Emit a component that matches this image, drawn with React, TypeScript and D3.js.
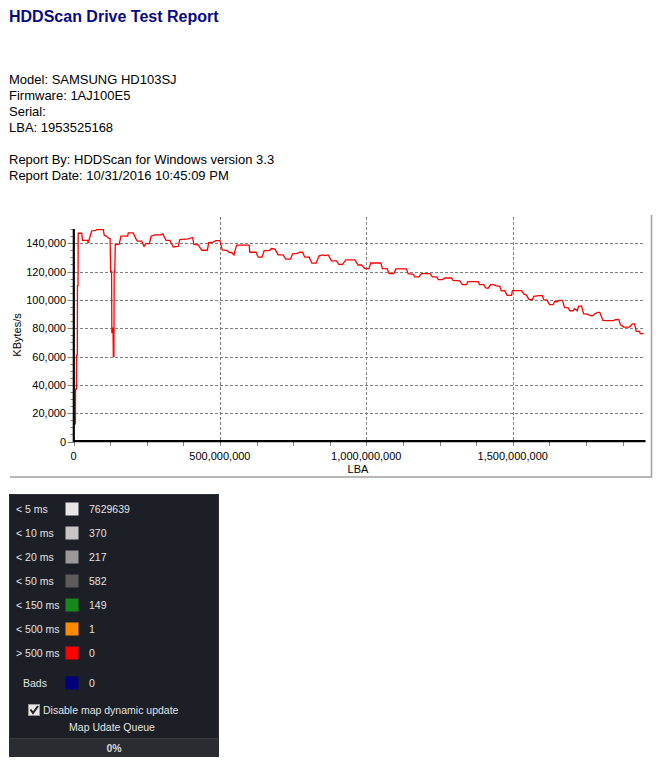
import React from "react";
import * as d3 from "d3";

// LBA position (millions of sectors) and transfer speed (thousands of KBytes/s)
const lbaM = [
  6.5, 7, 10, 10.5, 13, 13.5, 15.5, 16, 28, 31, 48, 50, 62, 75, 80, 102, 105, 112, 120, 125,
  127, 130, 131, 133, 135, 136, 138, 139, 141, 142.7, 156, 162, 185, 187, 204, 213, 218, 233, 241, 247,
  259, 265, 278, 298, 305, 316, 329, 341, 358, 363, 392, 407, 411, 426, 438, 457, 462, 477, 486, 500,
  508, 525, 532, 540, 548, 557, 600, 602, 623, 631, 644, 651, 669, 676, 688, 699, 716, 725, 741, 748,
  764, 773, 782, 790, 805, 814, 828, 839, 852, 858, 870, 881, 898, 906, 919, 930, 961, 972, 984, 995,
  1009, 1015, 1050, 1055, 1071, 1078, 1094, 1101, 1137, 1143, 1160, 1166, 1180, 1188, 1217, 1226, 1240, 1246, 1260, 1268,
  1291, 1296, 1319, 1328, 1342, 1347, 1382, 1387, 1401, 1408, 1416, 1425, 1435, 1442, 1456, 1461, 1473, 1481, 1496, 1499,
  1530, 1538, 1547, 1556, 1567, 1572, 1590, 1601, 1606, 1617, 1626, 1638, 1643, 1651, 1657, 1670, 1677, 1689, 1695, 1706,
  1712, 1720, 1725, 1735, 1742, 1757, 1765, 1774, 1780, 1791, 1797, 1803, 1808, 1825, 1844, 1851, 1862, 1868, 1879, 1899,
  1909, 1916, 1922, 1933, 1936, 1947,
];
const speedK = [
  12, 37, 37, 61, 61, 110, 110, 147, 147, 142, 142, 140, 148.6, 149.1, 149.6, 149.6, 145.6, 145, 143.5, 143.2,
  120, 120, 76.5, 80, 80, 60, 60, 120, 120, 139, 139.2, 145, 145, 147.2, 147.2, 143.2, 141.5, 141.5, 137.8, 139.7,
  139.7, 144.9, 145.8, 145.8, 146.5, 142, 142, 137.3, 137.8, 142.5, 143, 144, 139.2, 138.8, 135, 135, 140.4, 140.8, 141.8, 141.8,
  135.2, 134.8, 133.4, 133.4, 131.7, 138.6, 138.6, 133.6, 133.6, 130.1, 130.1, 134.8, 134.8, 136.2, 135.8, 131.7, 131.7, 128.7, 128.7, 132.4,
  132.8, 133.6, 133.6, 130.1, 130.1, 125.9, 125.9, 131, 131.7, 131.2, 131.7, 127.5, 127.5, 125.1, 125.1, 128.2, 128.2, 124.6, 124.6, 122,
  122, 126, 126, 122, 122, 118.5, 118.5, 121.8, 121.8, 118.5, 118, 116.2, 116.2, 118.5, 118.5, 116.2, 116.2, 114.3, 114.3, 115.4,
  115.4, 113.8, 113.4, 110.7, 110.7, 112.8, 112.8, 110.7, 110.7, 108.4, 108.2, 110.7, 110.7, 110, 109.5, 106.3, 106.5, 103.2, 103.2, 106.5,
  106.5, 104.2, 103.2, 100.1, 100.1, 102.5, 103, 103, 100.1, 99.8, 96.6, 96.6, 98.9, 98.5, 99.6, 99.6, 94.7, 94.4, 92.3, 92.3,
  93.8, 92.3, 95.4, 95.7, 90.2, 89.7, 88.8, 88.8, 90.2, 91.2, 91.2, 88.3, 85.5, 85.3, 85.3, 86, 86.2, 82.5, 80.8, 80.8,
  83, 83, 77.7, 77.7, 76.1, 76.1,
];

const LBA_MAX = 1953525168;
const SPEED_MAX = 150000;
const yTickValues = [0, 20000, 40000, 60000, 80000, 100000, 120000, 140000];
const xTickValues = [0, 500000000, 1000000000, 1500000000];

const titleText = "HDDScan Drive Test Report";
const infoLines = ["Model: SAMSUNG HD103SJ", "Firmware: 1AJ100E5", "Serial:", "LBA: 1953525168"];
const reportLines = ["Report By: HDDScan for Windows version 3.3", "Report Date: 10/31/2016 10:45:09 PM"];

const legendLabels = ["< 5 ms", "< 10 ms", "< 20 ms", "< 50 ms", "< 150 ms", "< 500 ms", "> 500 ms"];
const legendCounts = [7629639, 370, 217, 582, 149, 1, 0];
const legendColors = ["#e6e6e6", "#c6c6c6", "#9a9a9a", "#5c5c5c", "#17891a", "#ff8a00", "#ff0000"];
const badsLabel = "Bads";
const badsCount = 0;
const badsColor = "#00007c";

const FONT = "'Liberation Sans', Arial, sans-serif";
const fmt = d3.format(",");

export default function App() {
  const x = d3.scaleLinear().domain([0, LBA_MAX]).range([73.5, 645.5]);
  const y = d3.scaleLinear().domain([0, SPEED_MAX]).range([441.5, 229]);

  const points: [number, number][] = lbaM.map((l, i) => [l * 1e6, speedK[i] * 1000]);
  const line = d3
    .line<[number, number]>()
    .x((d) => x(d[0]))
    .y((d) => y(d[1]));

  const xMinor = d3.range(0, LBA_MAX, 125000000);
  const yMinor = d3.range(0, SPEED_MAX + 1, 5000);

  const rowY = (i: number) => 509 + i * 24;

  return (
    <svg
      width={662}
      height={773}
      style={{ position: "absolute", left: 0, top: 0, background: "#fff" }}
      fontFamily={FONT}
    >
      <rect x={0} y={0} width={662} height={773} fill="#fff" />
      <text x={9} y={22} fontSize={16} fontWeight="bold" fill="#0a0a80">
        {titleText}
      </text>
      {infoLines.map((t, i) => (
        <text key={t} x={9} y={83.5 + i * 16} fontSize={13} fill="#000">
          {t}
        </text>
      ))}
      {reportLines.map((t, i) => (
        <text key={t} x={9} y={164 + i * 16} fontSize={13} fill="#000">
          {t}
        </text>
      ))}

      {/* chart frame */}
      <line x1={651.5} x2={651.5} y1={215} y2={477.5} stroke="#a0a0a0" strokeWidth={1.5} />
      <line x1={10} x2={652} y1={477} y2={477} stroke="#a0a0a0" strokeWidth={1.5} />

      {/* grid */}
      {yTickValues
        .filter((v) => v > 0)
        .map((v) => (
          <line
            key={"gy" + v}
            x1={75}
            x2={643}
            y1={Math.round(y(v)) + 0.5}
            y2={Math.round(y(v)) + 0.5}
            stroke="#808080"
            strokeDasharray="3,2"
          />
        ))}
      {xTickValues
        .filter((v) => v > 0)
        .map((v) => (
          <line
            key={"gx" + v}
            x1={Math.round(x(v)) + 0.5}
            x2={Math.round(x(v)) + 0.5}
            y1={217}
            y2={440}
            stroke="#808080"
            strokeDasharray="3,2"
          />
        ))}

      {/* y ticks */}
      {yMinor.map((v) => (
        <line
          key={"ym" + v}
          x1={70.5}
          x2={73}
          y1={Math.round(y(v)) + 0.5}
          y2={Math.round(y(v)) + 0.5}
          stroke="#808080"
        />
      ))}
      {yTickValues.map((v) => (
        <g key={"yt" + v}>
          <line x1={67.5} x2={73} y1={Math.round(y(v)) + 0.5} y2={Math.round(y(v)) + 0.5} stroke="#808080" />
          <text x={66} y={y(v) + 4} fontSize={11} textAnchor="end" fill="#000">
            {fmt(v)}
          </text>
        </g>
      ))}

      {/* x ticks */}
      {xMinor.map((v) => (
        <line
          key={"xm" + v}
          x1={Math.round(x(v)) + 0.5}
          x2={Math.round(x(v)) + 0.5}
          y1={442}
          y2={446}
          stroke="#808080"
        />
      ))}
      {xTickValues.map((v) => (
        <text key={"xt" + v} x={x(v)} y={459.5} fontSize={11} textAnchor="middle" fill="#000">
          {fmt(v)}
        </text>
      ))}

      {/* data line */}
      <path d={line(points) || ""} fill="none" stroke="#ff0000" strokeWidth={1.3} />

      {/* axes */}
      <line x1={73.8} x2={73.8} y1={229} y2={442.3} stroke="#000" strokeWidth={2.2} />
      <line x1={73} x2={645.5} y1={441.2} y2={441.2} stroke="#000" strokeWidth={2.2} />

      <text x={358} y={473} fontSize={11} textAnchor="middle" fill="#000">
        LBA
      </text>
      <text
        transform="translate(21,335) rotate(-90)"
        fontSize={11}
        textAnchor="middle"
        fill="#000"
      >
        KBytes/s
      </text>

      {/* legend panel */}
      <rect x={9} y={494} width={210} height={263} fill="#1d1f26" />
      <rect x={9.5} y={494.5} width={209} height={262} fill="none" stroke="#2c2e35" />
      {legendLabels.map((lab, i) => (
        <g key={lab}>
          <text x={16} y={rowY(i) + 4} fontSize={10.5} fill="#e2e2e2">
            {lab}
          </text>
          <rect x={65.5} y={rowY(i) - 6.5} width={13} height={13} fill={legendColors[i]} />
          <text x={89} y={rowY(i) + 4} fontSize={10.5} fill="#e2e2e2">
            {legendCounts[i]}
          </text>
        </g>
      ))}
      <text x={23} y={683 + 4} fontSize={10.5} fill="#e2e2e2">
        {badsLabel}
      </text>
      <rect x={65.5} y={683 - 6.5} width={13} height={13} fill={badsColor} />
      <text x={89} y={683 + 4} fontSize={10.5} fill="#e2e2e2">
        {badsCount}
      </text>

      {/* checkbox */}
      <rect x={28.5} y={704.5} width={11} height={11} fill="#e8e8e8" stroke="#9a9a9a" />
      <path d="M30.5 709.5 L33 713 L38 706" fill="none" stroke="#222" strokeWidth={2} />
      <text x={43} y={714} fontSize={10.5} fill="#e2e2e2">
        Disable map dynamic update
      </text>
      <text x={112} y={731} fontSize={10.5} fill="#e2e2e2" textAnchor="middle">
        Map Udate Queue
      </text>
      <rect x={10} y={738} width={208} height={19} fill="#2a2c32" />
      <line x1={10} x2={218} y1={738.5} y2={738.5} stroke="#3a3c42" />
      <text x={114} y={751.5} fontSize={10.5} fill="#d8d8d8" textAnchor="middle" fontWeight="bold">
        0%
      </text>
    </svg>
  );
}
